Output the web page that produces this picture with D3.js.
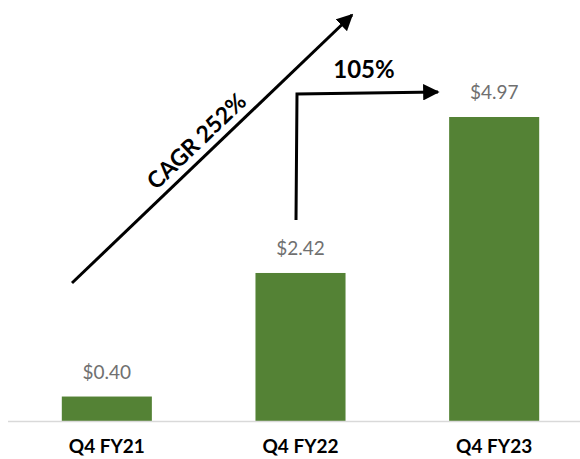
<!DOCTYPE html>
<html><head><meta charset="utf-8">
<script src="https://cdn.jsdelivr.net/npm/d3@7"></script>
<style>body{margin:0;background:#fff}svg{display:block}</style>
</head><body>
<svg id="c" width="580" height="459"></svg>
<script>
const categories = ["Q4 FY21", "Q4 FY22", "Q4 FY23"];
const values = [0.40, 2.42, 4.97];
const valueLabels = ["$0.40", "$2.42", "$4.97"];
const cagrLabel = "CAGR 252%";
const growthLabel = "105%";

const svg = d3.select("#c");
const baseY = 421;
const x = d3.scaleBand().domain(categories).range([10, 591]).paddingInner(0.535).paddingOuter(0.2675);
const y = d3.scaleLinear().domain([0, 4.97]).range([baseY, 117]);
const font = "Lato, 'Open Sans', sans-serif";

// bars
svg.selectAll("rect.bar").data(values).join("rect")
  .attr("x", (d,i)=>x(categories[i]))
  .attr("width", x.bandwidth())
  .attr("y", d=>y(d))
  .attr("height", d=>baseY - y(d))
  .attr("fill", "#548235");

// axis
const ax = svg.append("g").attr("transform", `translate(0,${baseY})`)
  .call(d3.axisBottom(x).tickSize(0).tickPadding(0));
ax.select(".domain").remove();
svg.append("line").attr("x1", 8).attr("x2", 580).attr("y1", baseY+0.5).attr("y2", baseY+0.5)
  .attr("stroke", "#d9d9d9").attr("stroke-width", 1.5);
ax.selectAll("text").attr("y", 32).attr("dy", 0)
  .attr("font-family", font).attr("font-size", 19).attr("font-weight", "bold").attr("fill", "#000");

// value labels
svg.selectAll("text.val").data(values).join("text")
  .attr("class", "val")
  .attr("x", (d,i)=>x(categories[i]) + x.bandwidth()/2)
  .attr("y", d=>y(d) - 18)
  .attr("text-anchor", "middle")
  .attr("font-family", font).attr("font-size", 19).attr("fill", "#707070")
  .text((d,i)=>valueLabels[i]);

// arrow marker
const defs = svg.append("defs");
defs.append("marker").attr("id", "ah").attr("viewBox", "0 0 10 10")
  .attr("refX", 9).attr("refY", 5).attr("markerWidth", 5.5).attr("markerHeight", 5.5)
  .attr("markerUnits", "strokeWidth").attr("orient", "auto")
  .append("path").attr("d", "M0,0 L10,5 L0,10 Z").attr("fill", "#000");

// CAGR arrow
const p0 = [72, 283], p1 = [352, 15];
svg.append("line").attr("x1", p0[0]).attr("y1", p0[1]).attr("x2", p1[0]).attr("y2", p1[1])
  .attr("stroke", "#000").attr("stroke-width", 3).attr("marker-end", "url(#ah)");
const ang = Math.atan2(p1[1]-p0[1], p1[0]-p0[0]) * 180 / Math.PI;
svg.append("text").attr("transform", `translate(202,147) rotate(${ang})`)
  .attr("text-anchor", "middle").attr("font-family", font).attr("font-size", 23)
  .attr("font-weight", "bold").attr("fill", "#000").text(cagrLabel);

// 105% elbow arrow
svg.append("path").attr("d", "M296,220 L297,94 L438,92")
  .attr("fill", "none").attr("stroke", "#000").attr("stroke-width", 3)
  .attr("stroke-linejoin", "miter").attr("marker-end", "url(#ah)");
svg.append("text").attr("x", 364).attr("y", 78).attr("text-anchor", "middle")
  .attr("font-family", font).attr("font-size", 24).attr("font-weight", "bold")
  .attr("fill", "#000").text(growthLabel);
</script>
</body></html>
